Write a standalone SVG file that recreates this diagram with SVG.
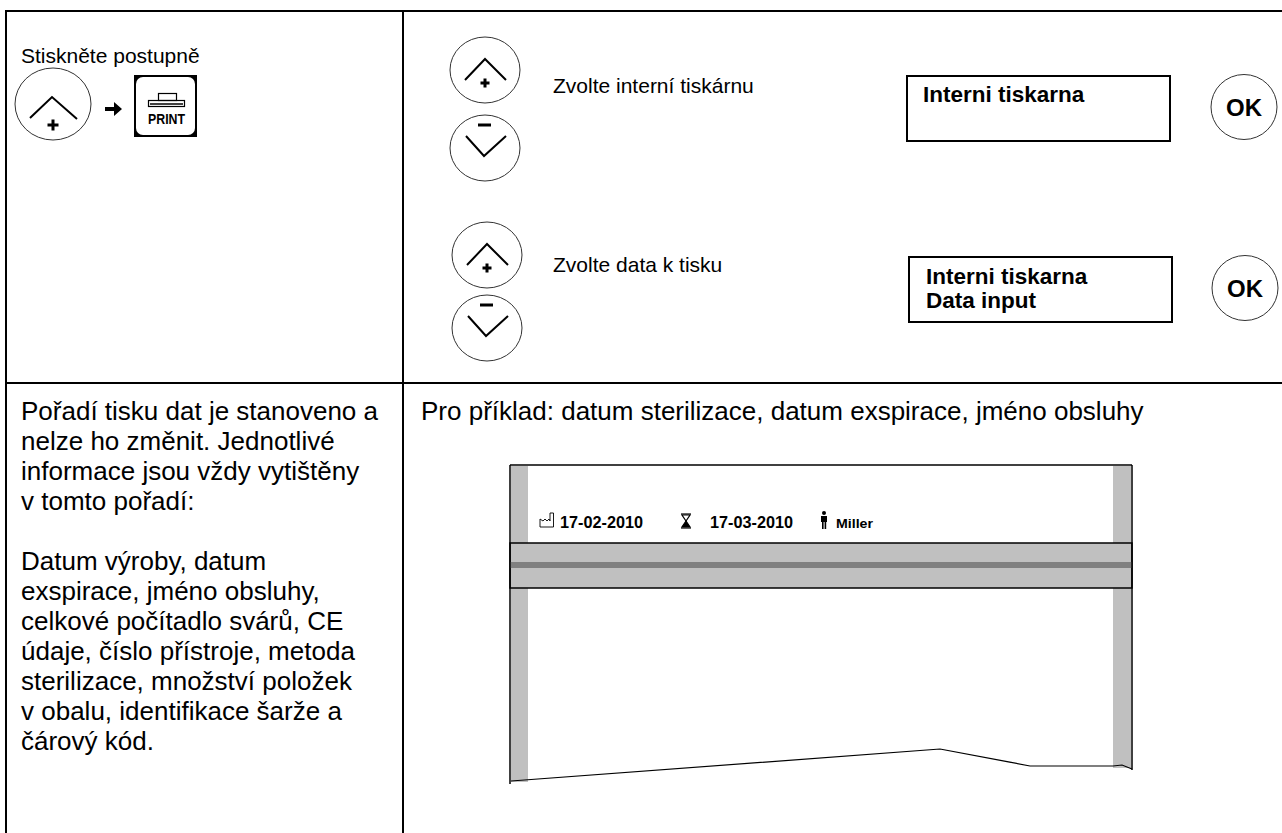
<svg xmlns="http://www.w3.org/2000/svg" width="1282" height="833" viewBox="0 0 1282 833">
  <style>
    .grid { stroke: #000; stroke-width: 2; fill: none; }
    .btn { fill: #fff; stroke: #333; stroke-width: 1; }
    .chev { fill: none; stroke: #000; stroke-width: 2; }
    .sym { stroke: #000; stroke-width: 3; fill: none; }
    .t { font-family: "Liberation Sans", Arial, sans-serif; fill: #000; }
    .small { font-size: 21px; }
    .para { font-size: 26px; }
    .disp { font-size: 22.5px; font-weight: bold; }
    .ok { font-size: 24px; font-weight: bold; }
    .lbl { font-size: 16.5px; font-weight: bold; }
    .box { fill: #fff; stroke: #000; stroke-width: 2; }
    .bar { fill: #c0c0c0; }
  </style>
  <defs>
    <g id="btn-up">
      <ellipse class="btn" cx="0" cy="0" rx="35" ry="33"/>
      <polyline class="chev" points="-20,10 0,-11 21,10"/>
      <path class="sym" d="M-4.5,13 H4.5 M0,8.5 V17.5"/>
    </g>
    <g id="btn-down">
      <ellipse class="btn" cx="0" cy="0" rx="35" ry="33"/>
      <polyline class="chev" points="-19,-12 -1,8 21,-12"/>
      <path class="sym" d="M-7,-23 H6"/>
    </g>
    <g id="btn-ok">
      <ellipse class="btn" cx="0" cy="0" rx="33" ry="32.5"/>
      <text class="t ok" x="0" y="9" text-anchor="middle">OK</text>
    </g>
  </defs>

  <rect width="1282" height="833" fill="#fff"/>

  <!-- table rules -->
  <g id="table" class="grid">
    <line x1="6" y1="11" x2="1282" y2="11"/>
    <line x1="6" y1="10" x2="6" y2="833"/>
    <line x1="403" y1="10" x2="403" y2="833"/>
    <line x1="6" y1="383" x2="1282" y2="383"/>
  </g>

  <!-- step 1: key sequence -->
  <g id="intro">
    <text class="t small" x="21" y="63">Stiskněte postupně</text>
    <ellipse class="btn" cx="53" cy="104" rx="38" ry="36"/>
    <polyline class="chev" points="30,118 52,97 77,119"/>
    <path class="sym" d="M47.5,125 H58.5 M53,119.5 V130.5"/>
    <polygon points="105,107 114,107 114,102 122,109 114,116 114,111 105,111" fill="#000"/>
    <g id="print-key">
      <rect x="134" y="75" width="63" height="62" fill="#000"/>
      <rect x="136" y="77" width="59" height="58" rx="7" fill="#fff"/>
      <rect x="158.5" y="93.5" width="18" height="7" fill="none" stroke="#000" stroke-width="1.2"/>
      <rect x="148.5" y="100.5" width="36" height="6" fill="none" stroke="#000" stroke-width="1.2"/>
      <line x1="150" y1="104" x2="183" y2="104" stroke="#000" stroke-width="1.5"/>
      <text class="t" x="148" y="124" font-size="14" font-weight="bold" textLength="37" lengthAdjust="spacingAndGlyphs">PRINT</text>
    </g>
  </g>

  <!-- step 2: choose internal printer -->
  <g id="select-printer">
    <use href="#btn-up" x="485" y="70"/>
    <use href="#btn-down" x="485" y="148"/>
    <text class="t small" x="553" y="93">Zvolte interní tiskárnu</text>
    <rect class="box" x="907" y="76" width="263" height="65"/>
    <text class="t disp" x="923" y="102">Interni tiskarna</text>
    <use href="#btn-ok" x="1244" y="107"/>
  </g>

  <!-- step 3: choose data to print -->
  <g id="select-data">
    <use href="#btn-up" x="487" y="255"/>
    <use href="#btn-down" x="487" y="328"/>
    <text class="t small" x="553" y="272">Zvolte data k tisku</text>
    <rect class="box" x="909" y="257" width="263" height="65"/>
    <text class="t disp" x="926" y="284">Interni tiskarna</text>
    <text class="t disp" x="926" y="308">Data input</text>
    <use href="#btn-ok" x="1245" y="288"/>
  </g>

  <!-- print order description -->
  <g id="order-text" class="t para">
    <text x="21" y="420">Pořadí tisku dat je stanoveno a</text>
    <text x="21" y="450">nelze ho změnit. Jednotlivé</text>
    <text x="21" y="480">informace jsou vždy vytištěny</text>
    <text x="21" y="510">v tomto pořadí:</text>
    <text x="21" y="570">Datum výroby, datum</text>
    <text x="21" y="600">exspirace, jméno obsluhy,</text>
    <text x="21" y="630">celkové počítadlo svárů, CE</text>
    <text x="21" y="660">údaje, číslo přístroje, metoda</text>
    <text x="21" y="690">sterilizace, množství položek</text>
    <text x="21" y="720">v obalu, identifikace šarže a</text>
    <text x="21" y="750">čárový kód.</text>
  </g>

  <!-- example label -->
  <g id="example">
    <text class="t para" x="421" y="420">Pro příklad: datum sterilizace, datum exspirace, jméno obsluhy</text>
    <g id="label-strip">
      <rect x="510" y="465" width="622" height="310" fill="#fff"/>
      <rect class="bar" x="511" y="466" width="17" height="316"/>
      <rect class="bar" x="1113" y="466" width="18" height="302"/>
      <!-- sealing band -->
      <rect x="510" y="543" width="622" height="45" fill="#c0c0c0" stroke="#000" stroke-width="1.5"/>
      <rect x="510" y="562" width="622" height="6" fill="#808080"/>
      <line x1="510" y1="465" x2="1132" y2="465" stroke="#000" stroke-width="1.5"/>
      <line x1="510" y1="465" x2="510" y2="784" stroke="#000" stroke-width="1.5"/>
      <line x1="1132" y1="465" x2="1132" y2="770" stroke="#000" stroke-width="1.5"/>
      <!-- torn lower edge -->
      <polyline points="511,781 940,749 1030,766 1113,766 1122,765 1132,769" fill="none" stroke="#000" stroke-width="1.2"/>
      <!-- printed line -->
      <path d="M540,527 V519 L543,521 L545,519 L547,521 L549,519 L550,521 V513 H553.5 V527 Z" fill="none" stroke="#000" stroke-width="0.9"/>
      <text class="t lbl" x="560" y="528" textLength="83" lengthAdjust="spacingAndGlyphs">17-02-2010</text>
      <g id="hourglass" stroke="#000" stroke-width="1.2" fill="none">
        <line x1="681" y1="514" x2="691" y2="514"/>
        <line x1="681" y1="528" x2="691" y2="528"/>
        <path d="M682,515 L690,515 L686,521 Z"/>
        <path d="M686,521 L682,527 H690 Z" fill="#000"/>
      </g>
      <text class="t lbl" x="710" y="528" textLength="83" lengthAdjust="spacingAndGlyphs">17-03-2010</text>
      <g id="person" fill="#000">
        <circle cx="824" cy="513" r="2"/>
        <rect x="821" y="516" width="6" height="6"/>
        <rect x="822" y="522" width="1.6" height="7"/>
        <rect x="824.6" y="522" width="1.6" height="7"/>
      </g>
      <text class="t" x="836" y="528" font-size="13.5" font-weight="bold" textLength="37" lengthAdjust="spacingAndGlyphs">Miller</text>
    </g>
  </g>
</svg>
